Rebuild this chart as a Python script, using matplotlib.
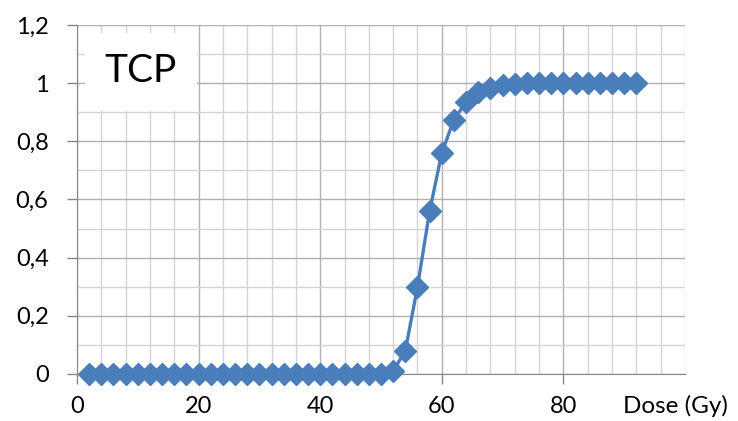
import matplotlib
matplotlib.use("Agg")
import matplotlib.pyplot as plt
from matplotlib.patches import Rectangle
from matplotlib.ticker import MultipleLocator

# dose (Gy) and tumour control probability
dose = [2, 4, 6, 8, 10, 12, 14, 16, 18, 20, 22, 24, 26, 28, 30, 32, 34, 36,
        38, 40, 42, 44, 46, 48, 50, 52, 54, 56, 58, 60, 62, 64, 66, 68, 70,
        72, 74, 76, 78, 80, 82, 84, 86, 88, 90, 92]
tcp = [0, 0, 0, 0, 0, 0, 0, 0, 0, 0, 0, 0, 0, 0, 0, 0, 0, 0,
       0, 0, 0, 0, 0, 0, 0.001, 0.01, 0.08, 0.30, 0.56, 0.76, 0.875, 0.935,
       0.97, 0.985, 0.993, 0.997, 1, 1, 1, 1, 1, 1, 1, 1, 1, 1]
x_ticks = [0, 20, 40, 60, 80]
x_labels = ["0", "20", "40", "60", "80"]
y_ticks = [0, 0.2, 0.4, 0.6, 0.8, 1.0, 1.2]
y_labels = ["0", "0,2", "0,4", "0,6", "0,8", "1", "1,2"]

plt.rcParams["font.family"] = ["Lato", "DejaVu Sans"]

fig = plt.figure(figsize=(7.38, 4.21), dpi=100)
ax = fig.add_axes([77 / 738, 47 / 421, 608 / 738, 349 / 421])

ax.plot(dose, tcp, color="#4a7ebb", linewidth=2.4, marker="D",
        markersize=11.5, zorder=3, clip_on=False)

ax.set_xlim(0, 100)
ax.set_ylim(0, 1.2)
ax.set_xticks(x_ticks)
ax.set_xticklabels(x_labels)
ax.set_yticks(y_ticks)
ax.set_yticklabels(y_labels)
ax.xaxis.set_minor_locator(MultipleLocator(4))
ax.yaxis.set_minor_locator(MultipleLocator(0.1))

ax.set_axisbelow(True)
ax.grid(which="minor", color="#d4d4d4", linewidth=1.0)
ax.grid(which="major", color="#b0b0b0", linewidth=1.0)
ax.tick_params(which="major", length=7.5, width=1.0, color="#868686",
               labelsize=17, direction="out")
ax.tick_params(axis="y", which="major", pad=13)
ax.tick_params(axis="x", which="major", pad=8)
ax.tick_params(which="minor", length=0)

for side in ["top", "right"]:
    ax.spines[side].set_visible(False)
for side in ["left", "bottom"]:
    ax.spines[side].set_color("#868686")

# white text box hiding the grid in the upper left corner
ax.add_patch(Rectangle((1.3, 0.904), 18.4, 0.268, facecolor="white",
                       edgecolor="none", zorder=1))
ax.text(10.5, 1.042, "TCP", fontsize=28, ha="center", va="center", zorder=4)

fig.text(623 / 738, 1 - 413 / 421, "Dose (Gy)", fontsize=17.5,
         ha="left", va="baseline")

fig.savefig("out.png", dpi=100)
